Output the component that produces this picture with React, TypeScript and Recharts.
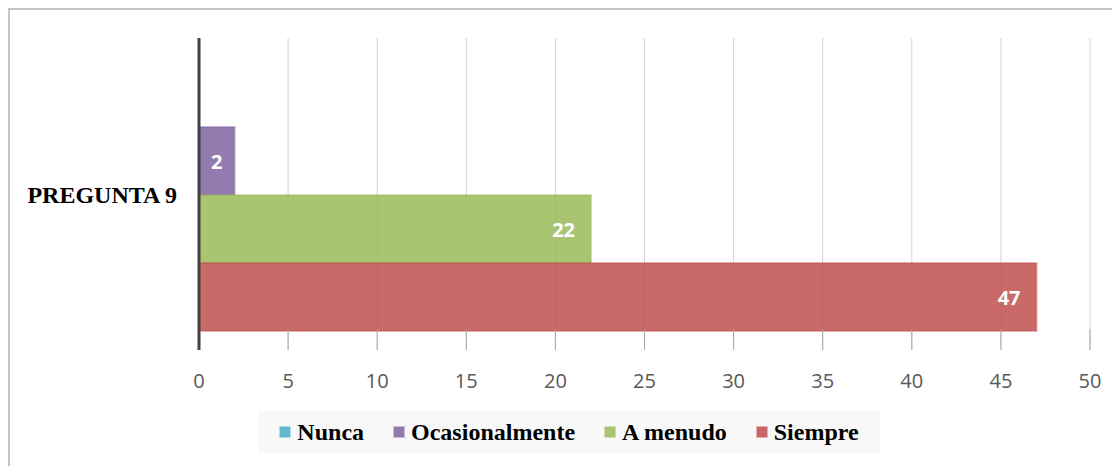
import { BarChart, Bar, XAxis, YAxis, CartesianGrid, LabelList } from "recharts"

// ── Data ──────────────────────────────────────────────────────────────────────

const categories = ["PREGUNTA 9"]
const nunca = [0]
const ocasionalmente = [2]
const aMenudo = [22]
const siempre = [47]
const xTicks = [0, 5, 10, 15, 20, 25, 30, 35, 40, 45, 50]

const series = [
  { key: "nunca", name: "Nunca", color: "#4bacc6", values: nunca },
  { key: "ocasionalmente", name: "Ocasionalmente", color: "#8064a2", values: ocasionalmente },
  { key: "aMenudo", name: "A menudo", color: "#9bbb59", values: aMenudo },
  { key: "siempre", name: "Siempre", color: "#c0504d", values: siempre },
]

const data = categories.map((name, i) => {
  const row: Record<string, string | number> = { name }
  series.forEach((s) => { row[s.key] = s.values[i] })
  return row
})

// ── Labels ────────────────────────────────────────────────────────────────────

function BarValueLabel(props: any) {
  const box = props.viewBox ?? props
  const { x, y, width, height } = box
  const value = props.value
  if (!value) return null
  const narrow = width < 60
  return (
    <text
      x={narrow ? x + width / 2 : x + width - 16}
      y={y + height / 2}
      textAnchor={narrow ? "middle" : "end"}
      dominantBaseline="central"
      fill="#ffffff"
      fontFamily="Open Sans"
      fontWeight={700}
      fontSize={20}
    >
      {value}
    </text>
  )
}

function ChartLegend() {
  return (
    <div
      style={{
        position: "absolute",
        left: 248,
        top: 401,
        width: 622,
        height: 42,
        background: "#f8f8f8",
        display: "flex",
        alignItems: "center",
        justifyContent: "center",
        gap: 29,
        fontFamily: "'Liberation Serif', 'Times New Roman', serif",
        fontWeight: 700,
        fontSize: 24,
        color: "#000",
      }}
    >
      {series.map((s) => (
        <div key={s.key} style={{ display: "flex", alignItems: "center", gap: 6 }}>
          <span
            style={{
              width: 10,
              height: 10,
              background: s.color,
              opacity: 0.85,
              border: "1px solid rgba(255,255,255,0.5)",
              display: "inline-block",
            }}
          />
          <span>{s.name}</span>
        </div>
      ))}
    </div>
  )
}

export default function App() {
  return (
    <div
      style={{
        position: "relative",
        width: 1110,
        height: 456,
        borderTop: "2px solid #c4c4c4",
        borderLeft: "2px solid #c4c4c4",
        background: "#fff",
      }}
    >
      <BarChart
        width={1110}
        height={456}
        data={data}
        layout="vertical"
        margin={{ top: 28, right: 30, bottom: 86, left: 0 }}
        barCategoryGap={21}
        barGap={0}
      >
        <CartesianGrid horizontal={false} stroke="#d4d4d4" />
        <XAxis
          type="number"
          domain={[0, 50]}
          ticks={xTicks}
          interval={0}
          axisLine={false}
          tickLine={{ stroke: "#a8a8a8" }}
          tickSize={-21}
          tickMargin={45}
          height={30}
          tick={{ fontFamily: "Open Sans", fontSize: 20, fill: "#595959" }}
        />
        <YAxis
          type="category"
          dataKey="name"
          width={189}
          axisLine={{ stroke: "#404040", strokeWidth: 3 }}
          tickLine={false}
          tickSize={0}
          tickMargin={22}
          tick={{ fontFamily: "'Liberation Serif', 'Times New Roman', serif", fontWeight: 700, fontSize: 24, fill: "#000" }}
        />
        {series.map((s) => (
          <Bar
            key={s.key}
            dataKey={s.key}
            name={s.name}
            fill={s.color}
            fillOpacity={0.85}
            stroke={s.color}
            strokeOpacity={0.45}
            strokeWidth={2}
            isAnimationActive={false}
          >
            <LabelList dataKey={s.key} content={BarValueLabel} />
          </Bar>
        ))}
      </BarChart>
      <ChartLegend />
    </div>
  )
}
